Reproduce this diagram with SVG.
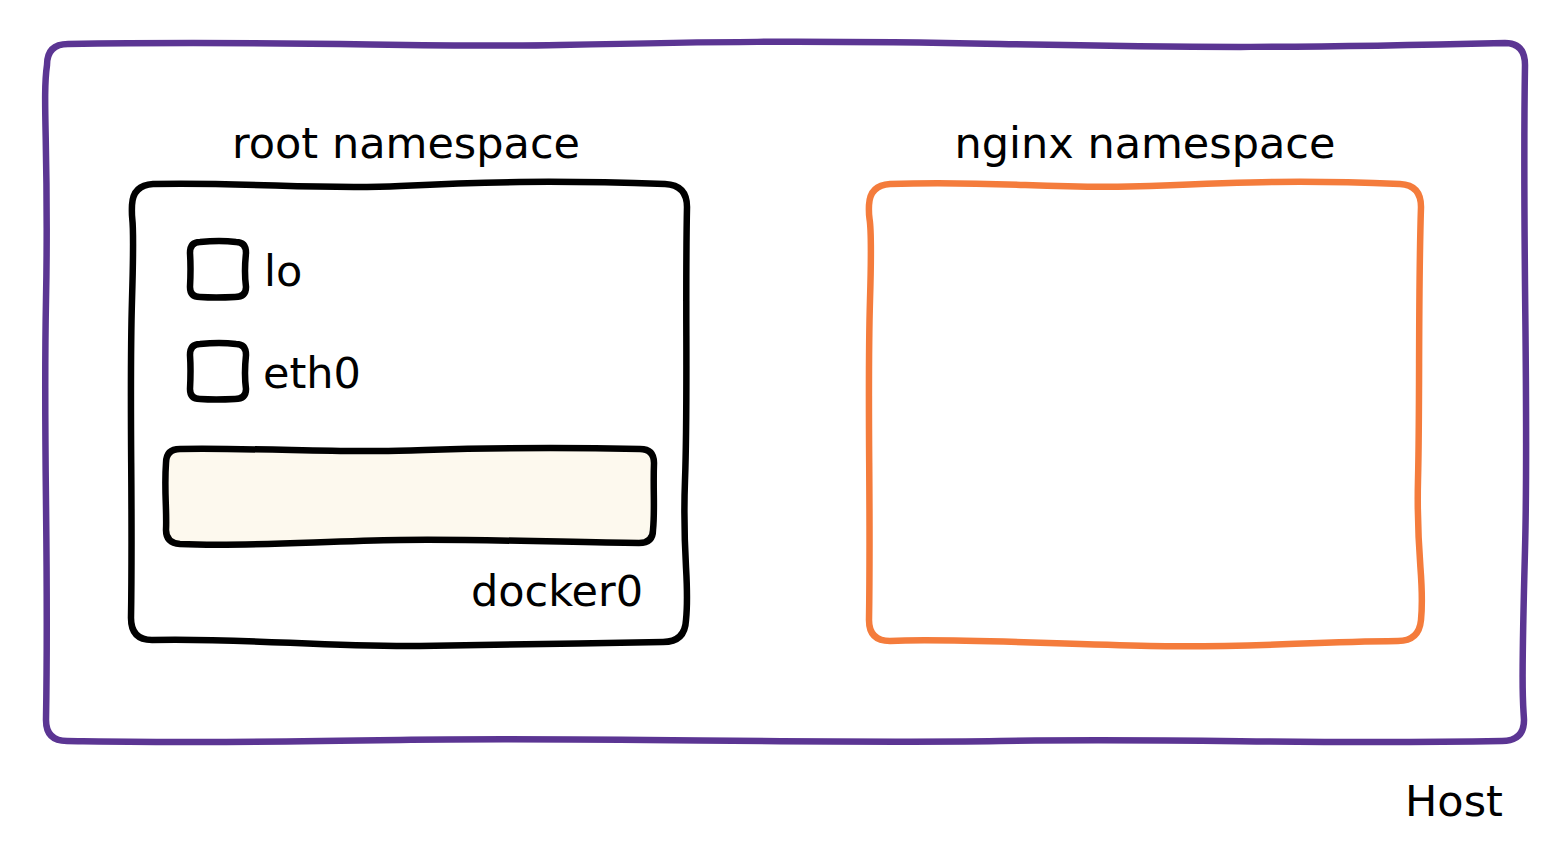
<svg xmlns="http://www.w3.org/2000/svg" width="1552" height="850" viewBox="0 0 1552 850">
<style>
.t{font-family:"DejaVu Sans","Liberation Sans",sans-serif;font-size:43px;fill:#000}
.b{fill:none;stroke-width:6.5;stroke-linejoin:round;stroke-linecap:round}
</style>
<rect width="1552" height="850" fill="#fff"/>
<g id="host">
<path class="b" stroke="#5b3593" d="M 68 44 C 300 40, 420 48, 560 45 S 800 40, 1000 44 S 1300 48, 1505 43 Q 1525 43 1525 65 C 1522 250, 1529 400, 1525 550 S 1523 700, 1524 720 Q 1524 741 1502 741 C 1300 745, 1200 738, 1000 741 S 600 737, 400 740 S 150 742, 67 741 Q 46 741 46 720 C 49 550, 43 450, 46 300 S 42 100, 47 65 Q 47 44 68 44 Z"/>
<text class="t" x="1405" y="816">Host</text>
</g>
<g id="root-ns">
<path class="b" stroke="#000" d="M 153 184 C 250 182, 320 190, 400 186 S 550 180, 665 184 Q 687 185 687 207 C 685 300, 688 400, 685 480 S 690 580, 686 620 Q 685 642 663 642 C 580 643, 520 645, 420 646 S 250 638, 152 640 Q 131 640 131 618 C 133 500, 129 400, 132 300 S 131 230, 132 205 Q 133 185 153 184 Z"/>
<text class="t" x="406" y="158" text-anchor="middle">root namespace</text>
</g>
<g id="lo">
<path class="b" stroke="#000" d="M 200 242 Q 220 240 236 242 Q 246 242 246 253 Q 244 272 246 287 Q 246 297 235 297 Q 215 298 200 297 Q 190 297 190 287 Q 191 268 190 253 Q 190 242 200 242 Z"/>
<text class="t" x="264" y="286">lo</text>
</g>
<g id="eth0">
<path class="b" stroke="#000" d="M 200 344 Q 220 342 236 344 Q 246 344 246 355 Q 244 374 246 389 Q 246 399 235 399 Q 215 400 200 399 Q 190 399 190 389 Q 191 370 190 355 Q 190 344 200 344 Z"/>
<text class="t" x="263" y="388">eth0</text>
</g>
<g id="docker0">
<path class="b" stroke="#000" style="fill:#fdf9ee" d="M 180 449 C 260 448, 320 452, 380 451 S 500 446, 640 449 Q 654 449 654 463 C 653 490, 655 510, 653 530 Q 653 543 639 543 C 560 542, 480 539, 400 540 S 250 547, 180 544 Q 166 543 166 530 C 167 510, 164 490, 166 463 Q 166 449 180 449 Z"/>
<text class="t" x="643" y="606" text-anchor="end">docker0</text>
</g>
<g id="nginx-ns">
<path class="b" stroke="#f47c3c" d="M 890 184 C 1000 180, 1050 190, 1150 186 S 1300 180, 1400 184 Q 1421 185 1421 207 C 1418 300, 1420 400, 1418 480 S 1425 580, 1421 620 Q 1419 641 1398 641 C 1300 642, 1250 648, 1150 646 S 950 638, 890 641 Q 869 641 869 620 C 871 500, 867 400, 870 300 S 868 230, 869 205 Q 870 185 890 184 Z"/>
<text class="t" x="1145" y="158" text-anchor="middle">nginx namespace</text>
</g>
<g id="connectors"></g>
</svg>
